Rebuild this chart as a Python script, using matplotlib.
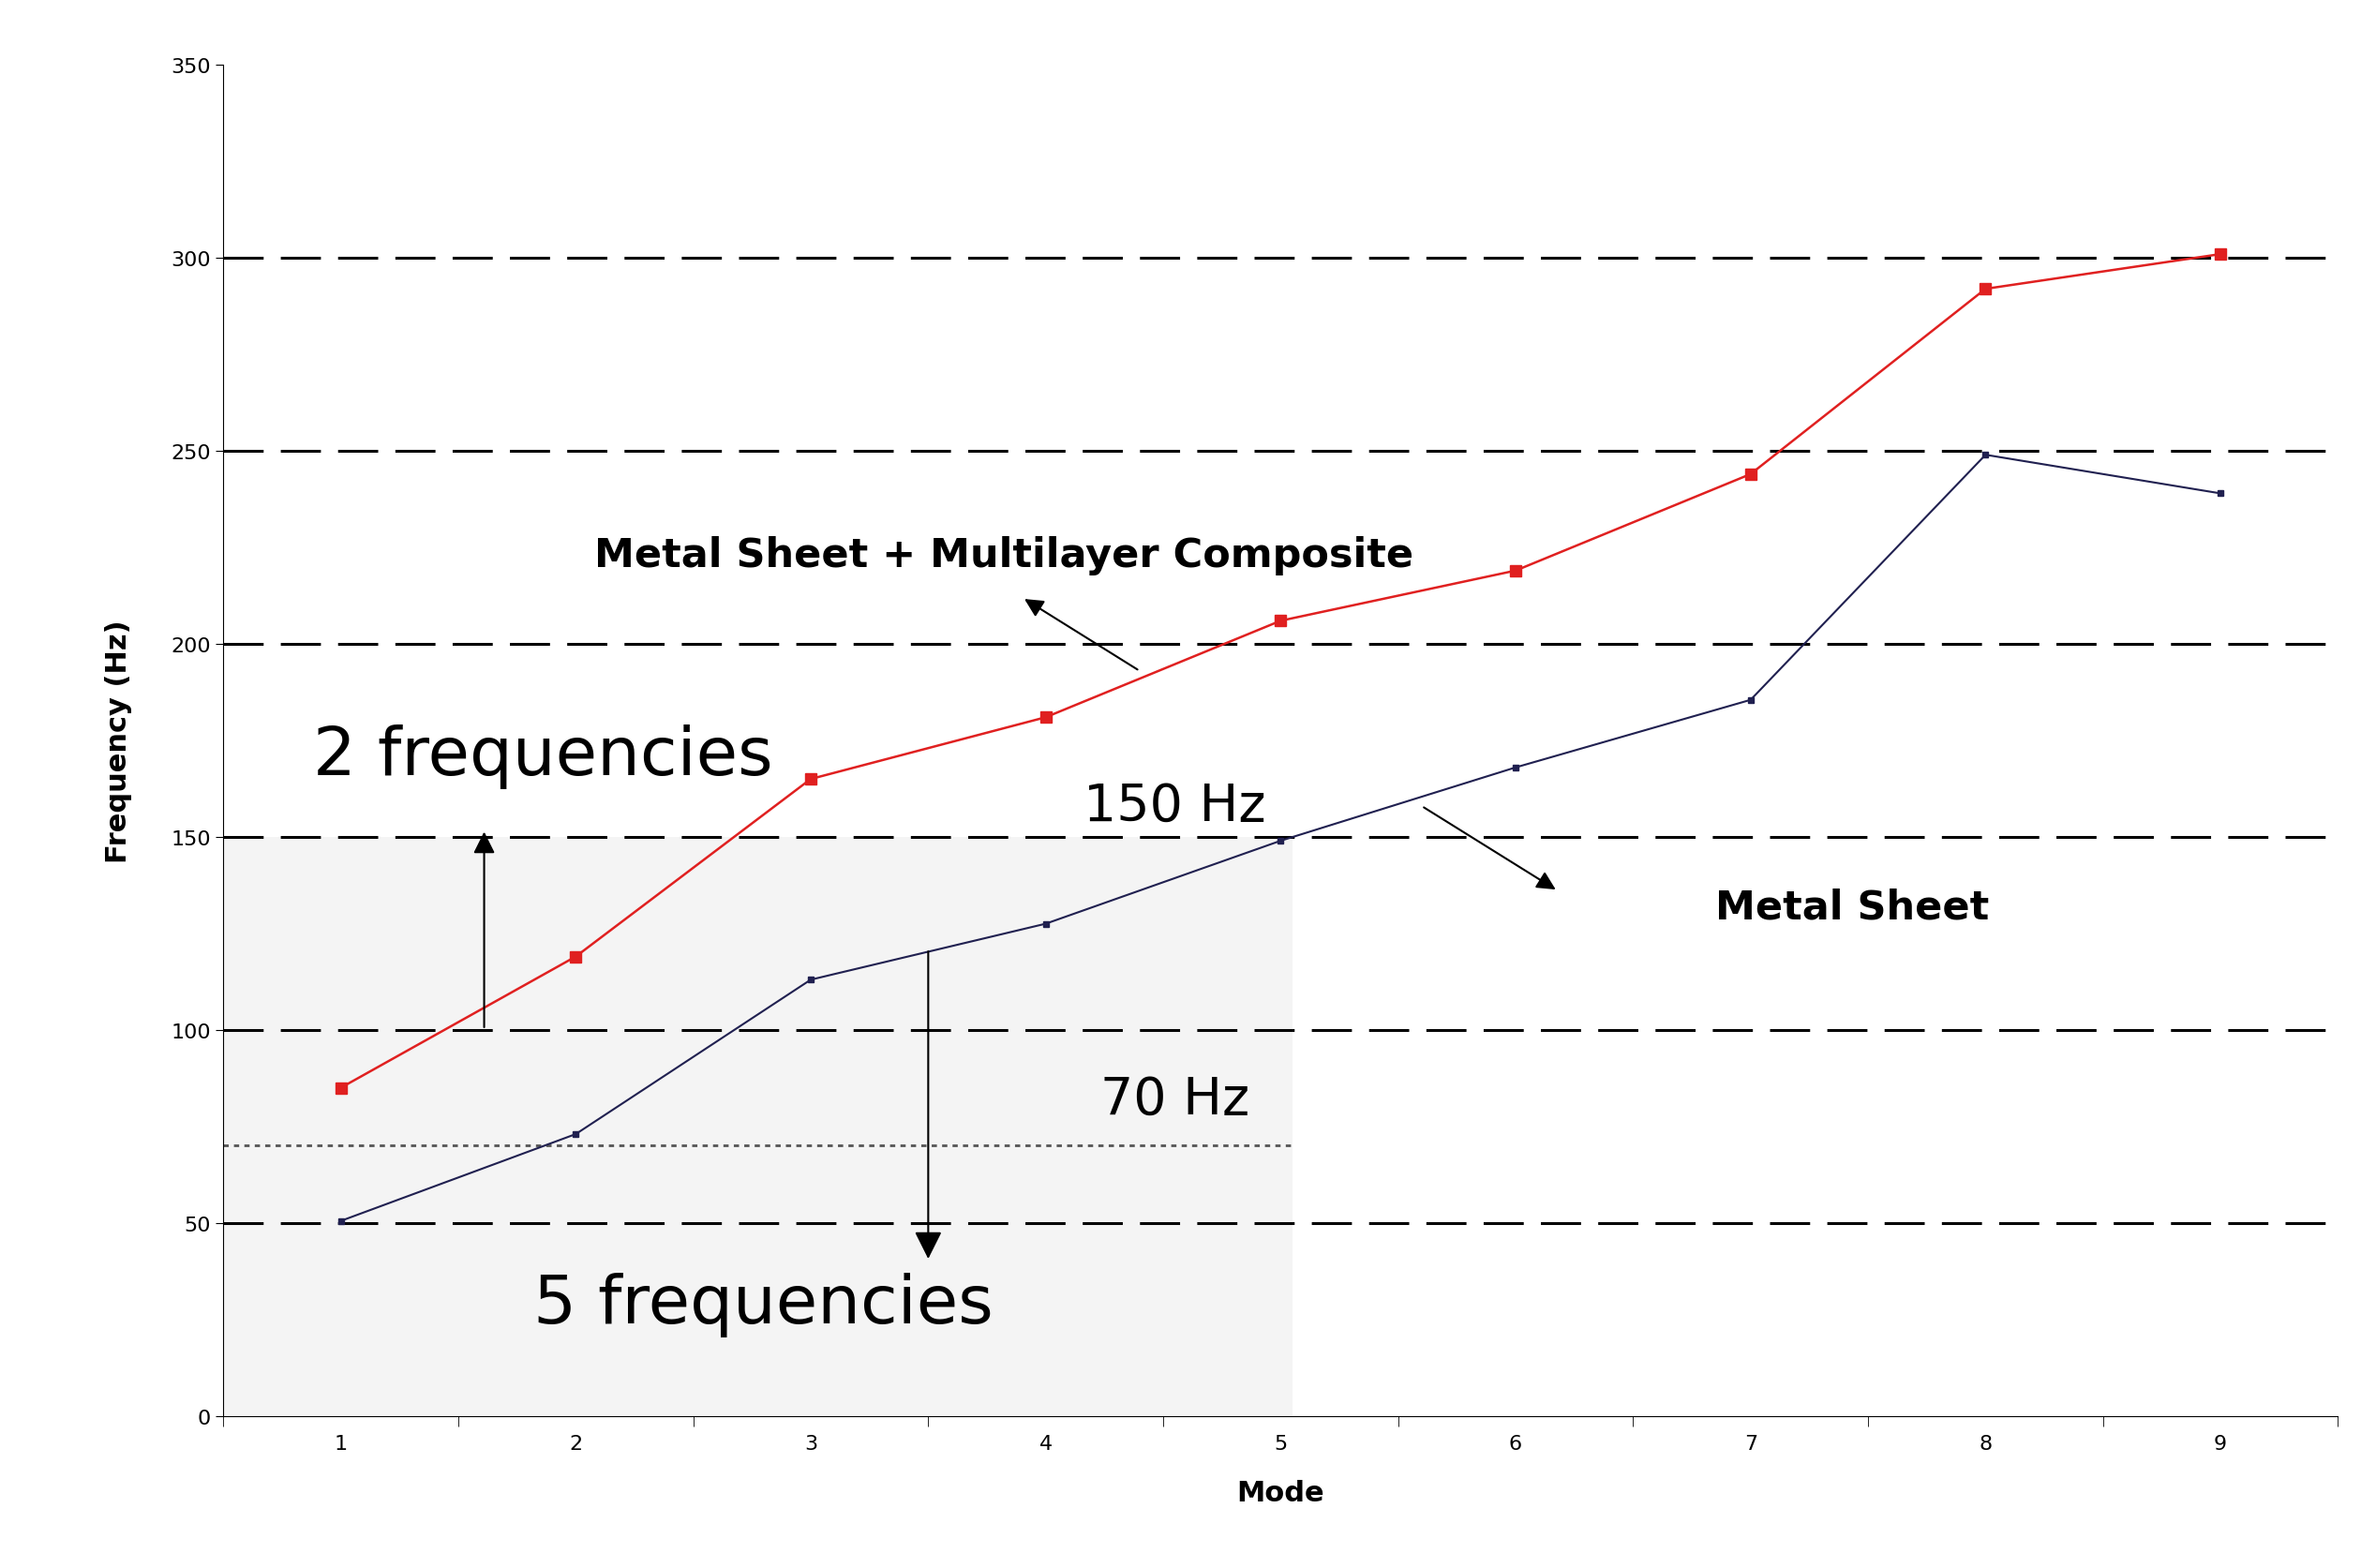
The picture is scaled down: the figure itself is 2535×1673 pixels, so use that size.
import numpy as np
import matplotlib
matplotlib.use("Agg")
import matplotlib.pyplot as plt
import matplotlib.patches as mpatches

modes = [1, 2, 3, 4, 5, 6, 7, 8, 9]
composite = [85, 119, 165, 181, 206, 219, 244, 292, 301]
metal = [50.5, 73, 113, 127.5, 149, 168, 185.5, 249, 239]
yticks = [0, 50, 100, 150, 200, 250, 300, 350]

plt.rcParams["hatch.color"] = "#999999"
plt.rcParams["hatch.linewidth"] = 1.5

fig = plt.figure(figsize=(25.35, 16.74), dpi=100)
ax = fig.add_axes([0.094, 0.097, 0.89, 0.861])

# dotted shaded region (below 150 Hz, modes 1-5)
ax.add_patch(mpatches.Rectangle((0.5, 0), 4.55, 150, facecolor="#f4f4f4",
                                edgecolor="none", hatch=".", zorder=0))

for y in [50, 100, 150, 200, 250, 300]:
    ax.axhline(y, color="black", lw=2.2, dashes=(14, 6), zorder=1)
ax.plot([0.5, 5.05], [70, 70], color="#555555", lw=2, ls=(0, (2, 2)), zorder=1)

ax.plot(modes, composite, color="#e02020", lw=1.8, marker="s", ms=8, zorder=3)
ax.plot(modes, metal, color="#202050", lw=1.5, marker="s", ms=4, zorder=3)

ax.set_xlim(0.5, 9.5)
ax.set_ylim(0, 350)
ax.set_yticks(yticks)
ax.set_xticks(modes)
ax.set_xticks(np.arange(0.5, 9.6, 1), minor=True)
ax.tick_params(axis="x", which="major", length=0, labelsize=16, pad=14)
ax.tick_params(axis="x", which="minor", length=8)
ax.tick_params(axis="y", labelsize=16, length=6)
for s in ["top", "right"]:
    ax.spines[s].set_visible(False)
ax.set_xlabel("Mode", fontsize=22, fontweight="bold", labelpad=20)
ax.set_ylabel("Frequency (Hz)", fontsize=22, fontweight="bold", labelpad=30)

ax.annotate("", xy=(3.9, 212), xytext=(4.4, 193),
            arrowprops=dict(arrowstyle="-|>", color="black", lw=1.5, mutation_scale=30))
ax.text(2.08, 223, "Metal Sheet + Multilayer Composite", ha="left", va="center",
        fontsize=31, fontweight="bold")
ax.annotate("", xy=(6.18, 136), xytext=(5.6, 158),
            arrowprops=dict(arrowstyle="-|>", color="black", lw=1.5, mutation_scale=30))
ax.text(6.85, 132, "Metal Sheet", ha="left", va="center", fontsize=31, fontweight="bold")
ax.text(0.88, 171, "2 frequencies", ha="left", va="center", fontsize=52)
ax.text(1.82, 29, "5 frequencies", ha="left", va="center", fontsize=52)
ax.text(4.55, 158, "150 Hz", ha="center", va="center", fontsize=40)
ax.text(4.55, 82, "70 Hz", ha="center", va="center", fontsize=40)
ax.annotate("", xy=(1.61, 152), xytext=(1.61, 100),
            arrowprops=dict(arrowstyle="-|>", color="black", lw=1.5, mutation_scale=35))
ax.annotate("", xy=(3.5, 40), xytext=(3.5, 121),
            arrowprops=dict(arrowstyle="-|>", color="black", lw=1.5, mutation_scale=45))

fig.savefig("out.png", dpi=100)
